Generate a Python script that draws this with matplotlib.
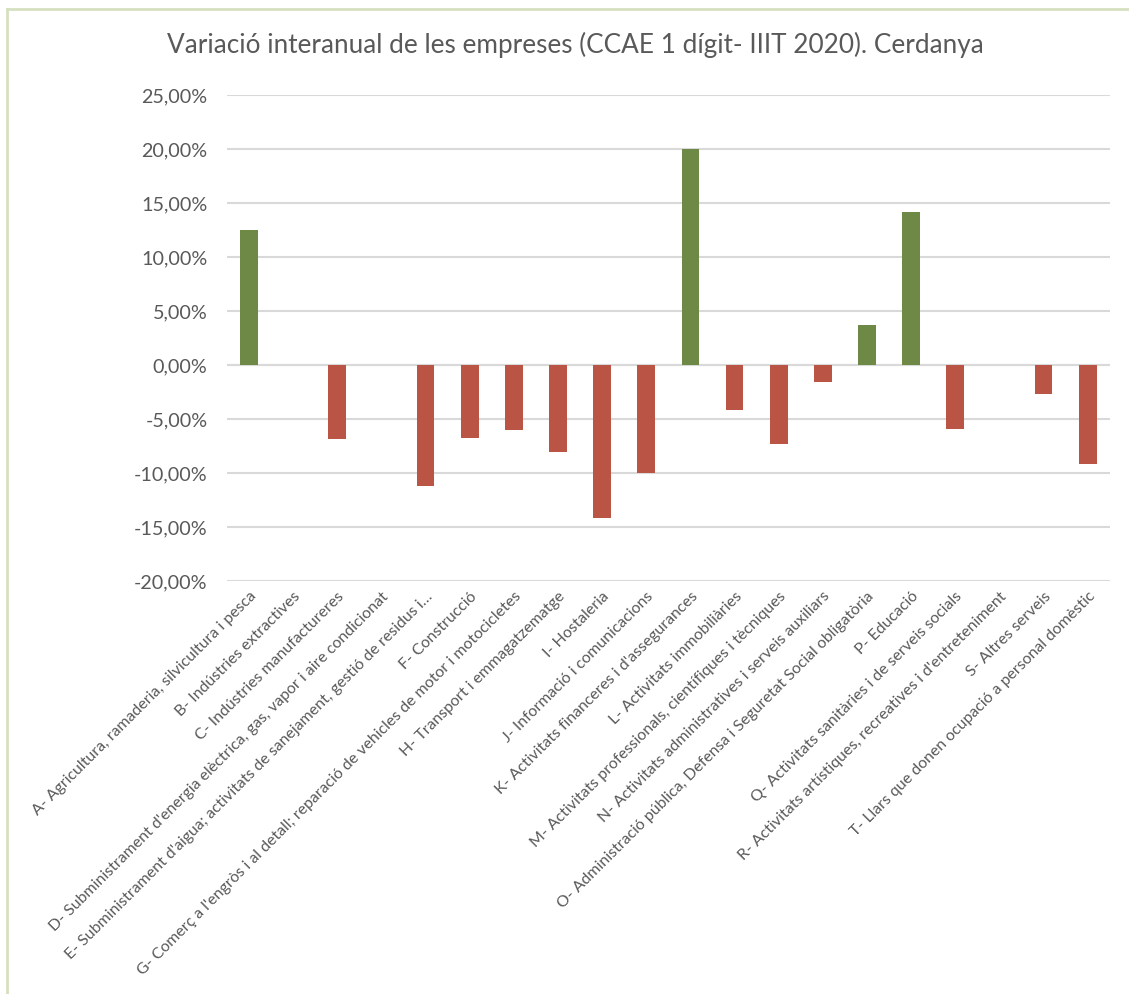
import matplotlib
matplotlib.use("Agg")
import matplotlib.pyplot as plt
from matplotlib.ticker import FuncFormatter, MultipleLocator
from matplotlib.lines import Line2D

# Variació interanual per secció CCAE (%)
sectors = [
    "A- Agricultura, ramaderia, silvicultura i pesca",
    "B- Indústries extractives",
    "C- Indústries manufactureres",
    "D- Subministrament d'energia elèctrica, gas, vapor i aire condicionat",
    "E- Subministrament d'aigua; activitats de sanejament, gestió de residus i…",
    "F- Construcció",
    "G- Comerç a l'engròs i al detall; reparació de vehicles de motor i motocicletes",
    "H- Transport i emmagatzematge",
    "I- Hostaleria",
    "J- Informació i comunicacions",
    "K- Activitats financeres i d'assegurances",
    "L- Activitats immobiliàries",
    "M- Activitats professionals, científiques i tècniques",
    "N- Activitats administratives i serveis auxiliars",
    "O- Administració pública, Defensa i Seguretat Social obligatòria",
    "P- Educació",
    "Q- Activitats sanitàries i de serveis socials",
    "R- Activitats artístiques, recreatives i d'entreteniment",
    "S- Altres serveis",
    "T- Llars que donen ocupació a personal domèstic",
]
variacio = [12.5, 0.0, -6.9, 0.0, -11.2, -6.8, -6.0, -8.1, -14.2, -10.0,
            20.0, -4.2, -7.3, -1.6, 3.7, 14.2, -5.9, 0.0, -2.7, -9.2]

title = "Variació interanual de les empreses (CCAE 1 dígit- IIIT 2020). Cerdanya"

GREEN = "#6e8845"
RED = "#ba5546"
GRID = "#d9d9d9"
TXT = "#595959"

plt.rcParams["font.family"] = ["Lato", "DejaVu Sans"]

fig = plt.figure(figsize=(11.29, 9.94), dpi=100)
ax = fig.add_axes([0.201, 0.4155, 0.782, 0.489])

x = range(len(sectors))
colors = [GREEN if v > 0 else RED for v in variacio]
ax.bar(x, variacio, width=0.4, color=colors, zorder=3)

ax.set_xlim(-0.5, len(sectors) - 0.5)
ax.set_ylim(-20, 25)
ax.yaxis.set_major_locator(MultipleLocator(5))
ax.yaxis.set_major_formatter(FuncFormatter(lambda v, p: f"{v:.2f}%".replace(".", ",")))
ax.grid(axis="y", color=GRID, linewidth=1.5, zorder=0)
ax.axhline(0, color=GRID, linewidth=1.5, zorder=2)

for s in ax.spines.values():
    s.set_visible(False)
ax.tick_params(axis="both", length=0, colors=TXT)
ax.tick_params(axis="y", pad=14, labelsize=14.2)

ax.set_xticks(list(x))
ax.set_xticklabels(sectors, rotation=45, ha="right", rotation_mode="anchor",
                   fontsize=11.4, color=TXT)
ax.tick_params(axis="x", pad=6)

fig.text(0.51, 0.955, title, ha="center", va="center", fontsize=18.8,
         color=TXT)

# marc del gràfic (només superior i esquerre visibles)
fig.add_artist(Line2D([0.006, 1.0], [0.9905, 0.9905], color="#d6e0c0",
                      linewidth=2, transform=fig.transFigure))
fig.add_artist(Line2D([0.0065, 0.0065], [0.0, 0.991], color="#d6e0c0",
                      linewidth=2, transform=fig.transFigure))

fig.savefig("out.png", dpi=100)
